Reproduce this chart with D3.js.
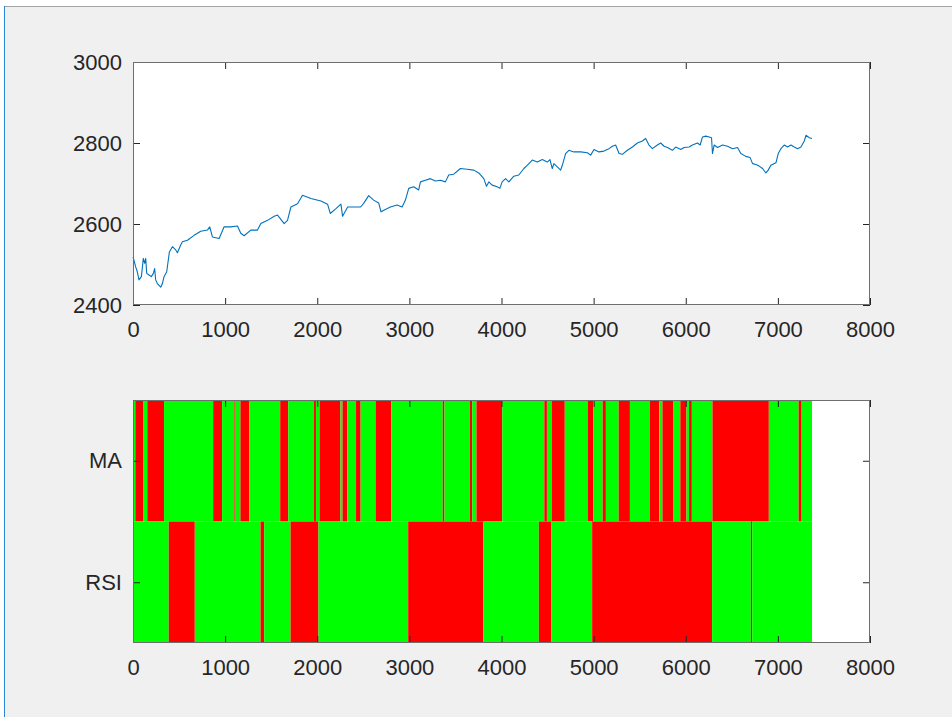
<!DOCTYPE html>
<html>
<head>
<meta charset="utf-8">
<script src="https://cdn.jsdelivr.net/npm/d3@7"></script>
<style>
  html, body { margin: 0; padding: 0; background: #ffffff; }
  svg { display: block; }
  text { font-family: "Liberation Sans", Arial, Helvetica, sans-serif; fill: #262626; }
</style>
</head>
<body>
<svg id="fig" width="952" height="717"></svg>
<script>
// ---- data ----
const xTicks = [0, 1000, 2000, 3000, 4000, 5000, 6000, 7000, 8000];
const priceTicks = [2400, 2600, 2800, 3000];
const signalRows = ["MA", "RSI"];
const sampleCount = 7370;

// price series (sample index, price)
const priceIndex = [1, 29, 47, 65, 91, 112, 127, 138, 149, 174, 199, 221, 235, 246, 264, 301, 319, 337, 366, 395,
  428, 464, 482, 518, 536, 591, 663, 735, 808, 833, 862, 935, 989, 1062, 1134, 1170, 1206, 1279, 1351, 1388,
  1460, 1533, 1569, 1641, 1677, 1714, 1786, 1840, 1931, 2040, 2112, 2141, 2203, 2257, 2275, 2330, 2402, 2470, 2504, 2558,
  2612, 2667, 2692, 2739, 2794, 2866, 2921, 2957, 2993, 3047, 3101, 3120, 3174, 3228, 3283, 3337, 3391, 3427, 3482, 3554,
  3627, 3699, 3753, 3808, 3837, 3862, 3899, 3953, 3982, 4007, 4044, 4080, 4134, 4188, 4243, 4279, 4334, 4388, 4443, 4497,
  4526, 4551, 4569, 4606, 4642, 4660, 4696, 4732, 4786, 4859, 4932, 4968, 5004, 5058, 5112, 5167, 5203, 5239, 5276, 5312,
  5366, 5421, 5475, 5529, 5565, 5601, 5638, 5692, 5728, 5765, 5801, 5855, 5891, 5946, 5982, 6036, 6073, 6127, 6156, 6182,
  6218, 6254, 6280, 6290, 6308, 6345, 6399, 6453, 6508, 6562, 6598, 6652, 6699, 6725, 6761, 6797, 6834, 6870, 6895, 6924,
  6979, 7004, 7033, 7069, 7105, 7142, 7178, 7214, 7250, 7287, 7305, 7341, 7370];
const priceValue = [2519, 2494, 2482, 2462, 2470, 2515, 2503, 2515, 2478, 2474, 2470, 2478, 2490, 2462, 2453, 2444, 2453, 2470, 2482, 2531,
  2544, 2536, 2529, 2548, 2556, 2560, 2572, 2582, 2585, 2593, 2568, 2564, 2593, 2593, 2595, 2577, 2571, 2585, 2585, 2601,
  2609, 2619, 2622, 2601, 2609, 2642, 2650, 2671, 2663, 2657, 2649, 2626, 2638, 2649, 2619, 2642, 2642, 2642, 2651, 2670,
  2659, 2652, 2630, 2636, 2642, 2647, 2642, 2659, 2688, 2692, 2684, 2704, 2708, 2712, 2706, 2708, 2704, 2721, 2723, 2737,
  2735, 2733, 2726, 2712, 2693, 2704, 2696, 2692, 2688, 2704, 2712, 2704, 2718, 2721, 2737, 2745, 2758, 2753, 2759, 2753,
  2759, 2737, 2749, 2741, 2733, 2745, 2774, 2782, 2778, 2778, 2776, 2770, 2784, 2778, 2780, 2786, 2792, 2795, 2774, 2772,
  2782, 2790, 2800, 2805, 2811, 2795, 2786, 2795, 2800, 2792, 2789, 2782, 2790, 2784, 2789, 2790, 2795, 2800, 2795, 2815,
  2817, 2815, 2813, 2774, 2795, 2789, 2795, 2792, 2786, 2789, 2774, 2767, 2764, 2749, 2747, 2743, 2737, 2726, 2733, 2745,
  2751, 2774, 2786, 2795, 2790, 2795, 2790, 2786, 2790, 2805, 2819, 2813, 2811];

// trading signals: segment start index and state (1 = buy / green, 0 = sell / red)
const maStart = [0.5, 25, 109, 155, 337, 870, 967, 1101, 1114, 1166, 1261, 1598, 1685, 1965, 1986, 2025, 2252, 2274,
  2326, 2421, 2471, 2633, 2804, 3362, 3381, 3656, 3682, 3728, 4008, 4465, 4493, 4544, 4687, 4935, 4997, 5098, 5133,
  5272, 5394, 5612, 5712, 5747, 5867, 5941, 6008, 6036, 6066, 6290, 6902, 7225, 7258];
const maSignal = [1, 0, 1, 0, 1, 0, 1, 0, 1, 0, 1, 0, 1, 0, 1, 0, 1, 0, 1, 0, 1, 0, 1, 0, 1, 0, 1, 0, 1, 0, 1, 0, 1, 0,
  1, 0, 1, 0, 1, 0, 1, 0, 1, 0, 1, 0, 1, 0, 1, 0, 1];
const rsiStart = [0.5, 388, 671, 1384, 1424, 1710, 2013, 2987, 3802, 4405, 4542, 4984, 6286, 6707, 6721];
const rsiSignal = [1, 0, 1, 0, 1, 0, 1, 0, 1, 0, 1, 0, 1, 0, 1];

// ---- layout ----
const W = 952, H = 717;
const axLeft = 133, axRight = 870;
const top1 = 62, bot1 = 305;
const top2 = 400, bot2 = 643;
const tickLen = 7;
const boxColor = "#6e6e6e";
const tickColor = "#262626";
const fontSize = 22;

const svg = d3.select("#fig");

// figure frame
svg.append("rect").attr("x", 5).attr("y", 7).attr("width", W - 5).attr("height", H - 7).attr("fill", "#f0f0f0");
svg.append("line").attr("x1", 4).attr("x2", W).attr("y1", 6.5).attr("y2", 6.5).attr("stroke", "#a3a3a3");
svg.append("line").attr("x1", 4.5).attr("x2", 4.5).attr("y1", 6).attr("y2", H).attr("stroke", "#2a86d8");

const x = d3.scaleLinear().domain([0, 8000]).range([axLeft, axRight]);
const yPrice = d3.scaleLinear().domain([2400, 3000]).range([bot1, top1]);
const yRow = d3.scaleLinear().domain([0.5, 2.5]).range([top2, bot2]);
const plain = d3.format("d");

// boxed axes with inward ticks on all four sides
function boxAxes(g, yScale, yTickVals, yTickText, top, bottom) {
  const xb = d3.axisBottom(x).tickValues(xTicks).tickSizeInner(-tickLen).tickSizeOuter(0).tickPadding(16)
    .tickFormat(plain);
  const xt = d3.axisTop(x).tickValues(xTicks).tickSizeInner(-tickLen).tickSizeOuter(0).tickFormat("");
  const yl = d3.axisLeft(yScale).tickValues(yTickVals).tickSizeInner(-tickLen).tickSizeOuter(0).tickPadding(11)
    .tickFormat(yTickText);
  const yr = d3.axisRight(yScale).tickValues(yTickVals).tickSizeInner(-tickLen).tickSizeOuter(0).tickFormat("");

  const gb = g.append("g").attr("transform", `translate(0,${bottom})`).call(xb);
  const gt = g.append("g").attr("transform", `translate(0,${top})`).call(xt);
  const gl = g.append("g").attr("transform", `translate(${axLeft},0)`).call(yl);
  const gr = g.append("g").attr("transform", `translate(${axRight},0)`).call(yr);

  [gb, gt, gl, gr].forEach(a => {
    a.select(".domain").remove();
    a.selectAll(".tick line").attr("stroke", tickColor).attr("stroke-width", 1);
    a.selectAll(".tick text").attr("font-size", fontSize).attr("fill", "#262626")
      .style("font-family", '"Liberation Sans", Arial, sans-serif');
  });
  gb.selectAll(".tick text").attr("dy", "0.71em");

  g.append("rect")
    .attr("x", axLeft + 0.5).attr("y", top + 0.5)
    .attr("width", axRight - axLeft - 1).attr("height", bottom - top - 1)
    .attr("fill", "none").attr("stroke", boxColor).attr("stroke-width", 1);
}

// ---- price panel ----
const g1 = svg.append("g");
g1.append("rect").attr("x", axLeft).attr("y", top1).attr("width", axRight - axLeft).attr("height", bot1 - top1)
  .attr("fill", "#ffffff");

const pricePts = priceIndex.map((d, i) => [d, priceValue[i]]);
const line = d3.line().x(d => x(d[0])).y(d => yPrice(d[1]));
g1.append("path")
  .datum(pricePts)
  .attr("d", line)
  .attr("fill", "none")
  .attr("stroke", "#0072bd")
  .attr("stroke-width", 1.1)
  .attr("stroke-linejoin", "round");

boxAxes(g1, yPrice, priceTicks, plain, top1, bot1);

// ---- signal panel ----
const g2 = svg.append("g");
g2.append("rect").attr("x", axLeft).attr("y", top2).attr("width", axRight - axLeft).attr("height", bot2 - top2)
  .attr("fill", "#ffffff");

const colour = s => (s === 1 ? "#00ff00" : "#ff0000");
function segments(starts, states, row) {
  return starts.map((s, i) => ({
    x0: s,
    x1: i + 1 < starts.length ? starts[i + 1] : sampleCount + 0.5,
    state: states[i],
    row: row
  }));
}
const cells = segments(maStart, maSignal, 1).concat(segments(rsiStart, rsiSignal, 2));

g2.append("g").selectAll("rect")
  .data(cells)
  .join("rect")
  .attr("x", d => x(d.x0))
  .attr("width", d => x(d.x1) - x(d.x0))
  .attr("y", d => yRow(d.row - 0.5))
  .attr("height", d => yRow(d.row + 0.5) - yRow(d.row - 0.5))
  .attr("fill", d => colour(d.state));

boxAxes(g2, yRow, [1, 2], d => signalRows[d - 1], top2, bot2);
</script>
</body>
</html>
